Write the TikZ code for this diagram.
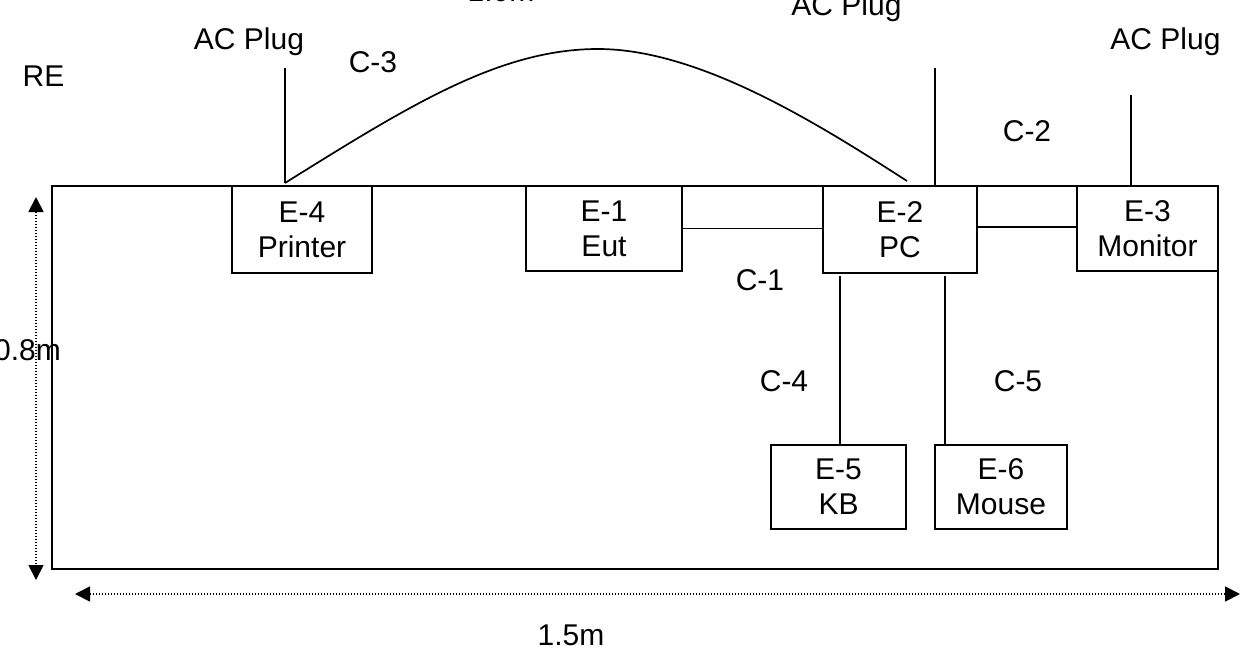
\documentclass[tikz,border=0pt]{standalone}
\usepackage{fontspec}
\setmainfont{Liberation Sans}
\usetikzlibrary{arrows.meta}
\begin{document}
\begin{tikzpicture}[x=1pt,y=-1pt,
  every node/.style={font=\fontsize{30}{35}\selectfont, inner sep=0pt},
  dev/.style={draw, line width=1.8pt, align=center, anchor=center},
  wire/.style={line width=1.7pt},
  dim/.style={line width=1.8pt, dash pattern=on 1.5pt off 1.5pt,
    {Triangle[width=15pt,length=15pt]}-{Triangle[width=15pt,length=15pt]}},
  lbl/.style={anchor=base}]
\useasboundingbox (0,0) rectangle (1247,653);
% table
\node[draw, line width=1.8pt, minimum width=1166pt, minimum height=383pt] (table) at (635,377.5) {};
% devices
\node[dev, minimum width=140pt, minimum height=87pt] (E4) at (302,229.5) {E-4\\Printer};
\node[dev, minimum width=156pt, minimum height=85pt] (E1) at (604,228.5) {E-1\\Eut};
\node[dev, minimum width=154pt, minimum height=87pt] (E2) at (900,229.5) {E-2\\PC};
\node[dev, minimum width=141pt, minimum height=85pt] (E3) at (1147.5,228.5) {E-3\\Monitor};
\node[dev, minimum width=135pt, minimum height=84pt] (E5) at (838.5,487) {E-5\\KB};
\node[dev, minimum width=132pt, minimum height=84pt] (E6) at (1001,487) {E-6\\Mouse};
% labels
\node[lbl] (topm) at (501,1.5) {1.0m};
\node[lbl] (acm) at (846.5,16) {AC Plug};
\node[lbl] (ac4) at (249,49) {AC Plug};
\node[lbl] (ac3) at (1165.5,49) {AC Plug};
\node[lbl] (re) at (43.5,86) {RE};
\node[lbl] (lc3) at (373,72) {C-3};
\node[lbl] (lc2) at (1027,141) {C-2};
\node[lbl] (lc1) at (760,290) {C-1};
\node[lbl] (lc4) at (784,391) {C-4};
\node[lbl] (lc5) at (1018,391) {C-5};
\node[anchor=base west] (h08) at (-6,360) {0.8m};
\node[lbl] (w15) at (571,645) {1.5m};
% connectors
\draw[wire] (E1.east) -- (E1.east -| E2.west);
\draw[wire] ([yshift=2.5pt]E2.east) -- ([yshift=2.5pt]E2.east -| E3.west);
\coordinate (k1) at (840,276);
\draw[wire] (k1) -- (k1 |- E5.north);
\coordinate (m1) at (945,276);
\draw[wire] (m1) -- (m1 |- E6.north);
\coordinate (p4) at (285,68);
\coordinate (p4b) at (285,183);
\draw[wire] (p4) -- (p4b);
\coordinate (p2) at (935,68);
\draw[wire] (p2) -- (p2 |- E2.north);
\coordinate (p3) at (1131,95);
\draw[wire] (p3) -- (p3 |- E3.north);
\coordinate (c3e) at (907,181);
\draw[wire] (p4b) .. controls (410,105) and (500,49) .. (598,49)
  .. controls (700,49) and (820,125) .. (c3e);
% dimensions
\coordinate (vt) at (36,197);
\coordinate (vb) at (36,580);
\draw[dim] (vt) -- (vb);
\coordinate (hl) at (75,594);
\coordinate (hr) at (1240,594);
\draw[dim] (hl) -- (hr);
\end{tikzpicture}
\end{document}
